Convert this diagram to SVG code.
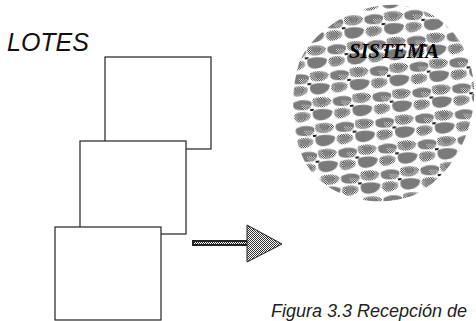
<svg xmlns="http://www.w3.org/2000/svg" width="476" height="321" viewBox="0 0 476 321">
  <style>
    .sheet { fill: #ffffff; stroke: #222222; stroke-width: 1.2; }
    .title { font-family: "Liberation Sans", Arial, sans-serif; font-style: italic; font-size: 25px; fill: #111111; }
    .label { font-family: "Liberation Serif", "Times New Roman", serif; font-style: italic; font-weight: bold; font-size: 20px; fill: #000000; }
    .caption { font-family: "Liberation Sans", Arial, sans-serif; font-style: italic; font-size: 18px; fill: #222222; }
  </style>
  <defs>
    <!-- fine dither used for the halftone patches -->
    <pattern id="dither" width="2" height="2" patternUnits="userSpaceOnUse">
      <rect width="2" height="2" fill="#ffffff"/>
      <rect width="1" height="1" fill="#333333"/>
      <rect x="1" y="1" width="1" height="1" fill="#333333"/>
    </pattern>
    <!-- mottled stone texture -->
    <pattern id="stone" width="40" height="26" patternUnits="userSpaceOnUse" patternTransform="rotate(-6)">
      <rect width="40" height="26" fill="#ffffff"/>
      <path d="M1 3 C7 0 16 1 19 4 C20 9 15 12 8 11 C2 11 -1 8 1 3 Z" fill="#7c7c7c"/>
      <path d="M9 6 C13 5 18 6 18 9 C16 12 11 12 9 10 Z" fill="url(#dither)"/>
      <path d="M21 1 C27 -1 36 0 39 4 C39 9 32 11 26 10 C20 9 19 5 21 1 Z" fill="url(#dither)"/>
      <path d="M25 2 C29 1 34 2 34 5 C32 8 27 8 25 6 Z" fill="#808080"/>
      <path d="M20 13 C26 11 35 12 39 15 C39 21 31 24 25 23 C19 22 18 17 20 13 Z" fill="#7a7a7a"/>
      <path d="M2 14 C8 12 15 13 17 17 C16 22 9 24 4 23 C0 22 -1 17 2 14 Z" fill="url(#dither)"/>
      <path d="M4 15 C8 14 13 15 13 18 C11 21 7 21 4 20 Z" fill="#858585"/>
      <path d="M17 11 L21 11 L20 13 L17 13 Z" fill="#222222"/>
    </pattern>
  </defs>

  <text class="title" x="7" y="51">LOTES</text>

  <!-- stacked sheets -->
  <g id="sheet-top">
    <rect class="sheet" x="105" y="57" width="106" height="92"/>
  </g>
  <g id="sheet-middle">
    <rect class="sheet" x="80" y="141" width="106" height="93"/>
  </g>
  <g id="sheet-bottom">
    <rect class="sheet" x="55" y="227" width="106" height="93"/>
  </g>

  <!-- system disc -->
  <g id="sistema">
    <path d="M300 60 C318 25 360 3 398 5 C440 8 470 40 474 85 C477 130 452 178 412 196 C372 210 322 196 304 160 C290 132 290 90 300 60 Z" fill="url(#stone)"/>
    <text class="label" x="349" y="58" textLength="90" lengthAdjust="spacingAndGlyphs">SISTEMA</text>
  </g>

  <g id="connectors">
    <rect x="192" y="240" width="57" height="6" fill="#222222"/>
    <rect x="194" y="242" width="53" height="2" fill="url(#dither)"/>
    <polygon points="247,225 282,244 247,262" fill="url(#dither)" stroke="#222222" stroke-width="1"/>
  </g>

  <text class="caption" x="271" y="317">Figura 3.3 Recepción de</text>
</svg>
